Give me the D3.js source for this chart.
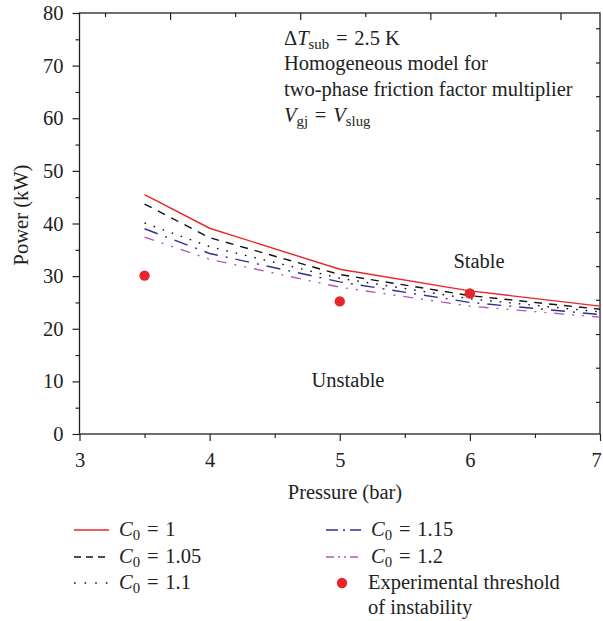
<!DOCTYPE html>
<html>
<head>
<meta charset="utf-8">
<script src="https://cdn.jsdelivr.net/npm/d3@7"></script>
<style>
  html, body { margin: 0; padding: 0; background: #fff; }
  svg { display: block; font-family: "Liberation Serif", "DejaVu Serif", serif; }
</style>
</head>
<body>
<div id="chart"></div>
<script>
// ---- data ----
const pressures = [3.5, 4, 5, 6, 7];
const seriesNames = ["1", "1.05", "1.1", "1.15", "1.2"];
const powerC100 = [45.5, 39.1, 31.3, 27.2, 24.3];
const powerC105 = [43.7, 37.3, 30.3, 26.3, 23.7];
const powerC110 = [40.1, 35.6, 29.6, 25.7, 23.2];
const powerC115 = [39.0, 34.3, 28.9, 25.0, 22.7];
const powerC120 = [37.4, 33.2, 27.9, 24.3, 22.2];
const expPressure = [3.5, 5, 6];
const expPower = [30.1, 25.2, 26.7];
const xTicks = [3, 4, 5, 6, 7];
const yTicks = [0, 10, 20, 30, 40, 50, 60, 70, 80];
const topTicks = [3.2, 3.7, 4.2, 4.7, 5.2, 5.7, 6.2, 6.7];
const rightTicks = [77.0, 70.5, 64.1, 57.6, 51.2, 44.7, 38.3, 31.8, 25.4, 18.9, 12.5, 6.0];

// ---- layout ----
const W = 603, H = 621;
const mLeft = 79.5, mRight = 600, mTop = 13, mBottom = 434;
const x = d3.scaleLinear().domain([3, 7]).range([mLeft, mRight]);
const y = d3.scaleLinear().domain([0, 80]).range([mBottom, mTop]);

const svg = d3.select("#chart").append("svg").attr("width", W).attr("height", H);

const styles = [
  { color: "#e8262a", dash: null },
  { color: "#111111", dash: "8,7" },
  { color: "#111111", dash: "1.6,8" },
  { color: "#2e3192", dash: "14,8,2,8" },
  { color: "#b457b8", dash: "10,8,2,8,2,8" }
];
const seriesVals = [powerC100, powerC105, powerC110, powerC115, powerC120];

// ---- axes ----
const fontSize = 20.5;
const ink = "#222";
const eq = "\u2004=\u2004";
const xAxis = d3.axisBottom(x).tickValues(xTicks).tickFormat(d3.format("d")).tickSize(7).tickPadding(11);
const gx = svg.append("g").attr("transform", `translate(0,${mBottom})`).call(xAxis);
gx.select(".domain").remove();
gx.selectAll("line").attr("stroke", ink).attr("stroke-width", 1.2);
gx.selectAll("text").attr("font-size", fontSize).attr("fill", ink).attr("font-family", "Liberation Serif");
gx.selectAll(".tick").filter(d => d === 7).select("text").attr("x", -4);
const xMinor = d3.axisBottom(x).tickValues(d3.range(3.5, 7, 1)).tickFormat("").tickSize(4);
const gxm = svg.append("g").attr("transform", `translate(0,${mBottom})`).call(xMinor);
gxm.select(".domain").remove();
gxm.selectAll("line").attr("stroke", ink).attr("stroke-width", 1.2);

const yAxis = d3.axisLeft(y).tickValues(yTicks).tickFormat(d3.format("d")).tickSize(7).tickPadding(9);
const gy = svg.append("g").attr("transform", `translate(${mLeft},0)`).call(yAxis);
gy.select(".domain").remove();
gy.selectAll("line").attr("stroke", ink).attr("stroke-width", 1.2);
gy.selectAll("text").attr("font-size", fontSize).attr("fill", ink).attr("font-family", "Liberation Serif");
const yMinor = d3.axisLeft(y).tickValues(d3.range(5, 80, 10)).tickFormat("").tickSize(4);
const gym = svg.append("g").attr("transform", `translate(${mLeft},0)`).call(yMinor);
gym.select(".domain").remove();
gym.selectAll("line").attr("stroke", ink).attr("stroke-width", 1.2);

// top and right inner ticks
svg.append("g").selectAll("line").data(topTicks).join("line")
  .attr("x1", d => x(d)).attr("x2", d => x(d))
  .attr("y1", mTop).attr("y2", (d, i) => mTop + (i % 2 ? 7 : 4))
  .attr("stroke", ink).attr("stroke-width", 1.2);
svg.append("g").selectAll("line").data(rightTicks).join("line")
  .attr("x1", mRight).attr("x2", mRight - 4)
  .attr("y1", d => y(d)).attr("y2", d => y(d))
  .attr("stroke", ink).attr("stroke-width", 1.2);

// frame
svg.append("rect").attr("x", mLeft).attr("y", mTop).attr("width", mRight - mLeft).attr("height", mBottom - mTop)
  .attr("fill", "none").attr("stroke", ink).attr("stroke-width", 1.3);

// axis titles
svg.append("text").attr("x", 345).attr("y", 499).attr("text-anchor", "middle")
  .attr("font-size", fontSize).attr("fill", ink).text("Pressure (bar)");
svg.append("text").attr("transform", `translate(28,215) rotate(-90)`)
  .attr("text-anchor", "middle").attr("font-size", fontSize).attr("fill", ink).text("Power (kW)");

// ---- lines ----
const line = d3.line().x((d, i) => x(pressures[i])).y(d => y(d));
seriesVals.forEach((vals, k) => {
  svg.append("path").datum(vals).attr("d", line)
    .attr("fill", "none").attr("stroke", styles[k].color).attr("stroke-width", 1.4)
    .attr("stroke-dasharray", styles[k].dash);
});

// experimental points
svg.append("g").selectAll("circle").data(expPressure).join("circle")
  .attr("cx", d => x(d)).attr("cy", (d, i) => y(expPower[i])).attr("r", 5.2)
  .attr("fill", "#e8262a");

// ---- annotations ----
function addRich(xp, yp, parts, size) {
  const t = svg.append("text").attr("x", xp).attr("y", yp).attr("font-size", size).attr("fill", ink);
  parts.forEach(p => {
    const s = t.append("tspan").text(p.t);
    if (p.i) s.attr("font-style", "italic");
    if (p.sub) s.attr("font-size", size * 0.72).attr("dy", 4);
    if (p.up) s.attr("dy", -4);
  });
  return t;
}
addRich(284, 45, [{ t: "Δ" }, { t: "T", i: true }, { t: "sub", sub: true }, { t: eq + "2.5 K", up: true }], fontSize);
svg.append("text").attr("x", 284).attr("y", 70).attr("font-size", fontSize).attr("fill", ink).text("Homogeneous model for");
svg.append("text").attr("x", 284).attr("y", 96).attr("font-size", fontSize).attr("fill", ink).text("two-phase friction factor multiplier");
addRich(284, 122, [{ t: "V", i: true }, { t: "gj", sub: true }, { t: eq, up: true }, { t: "V", i: true }, { t: "slug", sub: true }], fontSize);

svg.append("text").attr("x", 479).attr("y", 268).attr("text-anchor", "middle").attr("font-size", fontSize).attr("fill", ink).text("Stable");
svg.append("text").attr("x", 348).attr("y", 387).attr("text-anchor", "middle").attr("font-size", fontSize).attr("fill", ink).text("Unstable");

// ---- legend ----
const legendPos = [
  { lx: 74, ly: 530 }, { lx: 74, ly: 557 }, { lx: 74, ly: 583 },
  { lx: 326, ly: 530 }, { lx: 326, ly: 557 }
];
seriesNames.forEach((name, k) => {
  const p = legendPos[k];
  svg.append("line").attr("x1", p.lx).attr("x2", p.lx + 35).attr("y1", p.ly).attr("y2", p.ly)
    .attr("stroke", styles[k].color).attr("stroke-width", 1.4)
    .attr("stroke-dasharray", k === 1 ? "7,5" : k === 2 ? "1.6,9" : k === 3 ? "12,5,2,5" : k === 4 ? "8,4,2,4,2,4" : null);
  addRich(p.lx + 45, p.ly + 6, [{ t: "C", i: true }, { t: "0", sub: true }, { t: eq + name, up: true }], fontSize);
});
svg.append("circle").attr("cx", 342).attr("cy", 583).attr("r", 5.2).attr("fill", "#e8262a");
svg.append("text").attr("x", 368).attr("y", 589).attr("font-size", fontSize).attr("fill", ink).text("Experimental threshold");
svg.append("text").attr("x", 368).attr("y", 614).attr("font-size", fontSize).attr("fill", ink).text("of instability");
</script>
</body>
</html>
